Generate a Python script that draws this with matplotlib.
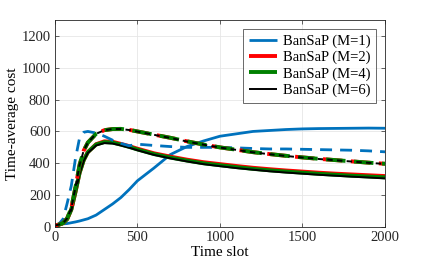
import numpy as np
import matplotlib
matplotlib.use("Agg")
import matplotlib.pyplot as plt

plt.rcParams['font.family'] = ['Liberation Serif', 'DejaVu Serif']

t = [0, 25, 50, 75, 100, 125, 150, 175, 200, 250, 300, 350, 400, 450, 500, 600, 700, 800, 900, 1000,
     1100, 1200, 1300, 1400, 1500, 1600, 1700, 1800, 1900, 2000]

m1_solid = [10, 15, 20, 22, 27, 32, 38, 45, 52, 75, 110, 145, 185, 235, 290, 370, 455, 505, 540, 570,
            585, 600, 606, 612, 616, 618, 619, 620, 621, 620]
m1_dash = [10, 20, 50, 150, 260, 430, 560, 595, 600, 590, 570, 545, 525, 510, 520, 512, 505, 500, 500, 500,
           497, 493, 490, 490, 488, 486, 484, 482, 478, 472]
solid_m2 = [10, 15, 25, 50, 110, 220, 340, 420, 470, 520, 538, 535, 522, 508, 492, 463, 442, 423, 407, 395,
            383, 372, 363, 355, 348, 341, 335, 330, 325, 320]
solid_m4 = [10, 15, 25, 50, 110, 220, 340, 420, 470, 518, 533, 530, 517, 503, 487, 458, 436, 417, 400, 388,
            376, 365, 356, 348, 341, 334, 328, 322, 317, 312]
solid_m6 = [10, 15, 25, 50, 105, 215, 335, 415, 465, 512, 527, 524, 512, 498, 482, 453, 431, 412, 395, 382,
            370, 360, 350, 342, 335, 328, 322, 316, 311, 305]
dash_m2 = [10, 15, 25, 55, 120, 250, 390, 480, 530, 585, 608, 615, 616, 610, 600, 580, 560, 538, 518, 500,
           485, 470, 458, 447, 437, 428, 420, 412, 404, 397]
dash_m4 = [10, 15, 25, 55, 120, 250, 390, 480, 530, 585, 608, 615, 616, 610, 600, 580, 560, 538, 518, 500,
           485, 470, 458, 447, 437, 428, 420, 412, 404, 397]
dash_m6 = [10, 15, 25, 55, 120, 250, 390, 480, 530, 585, 608, 615, 615, 609, 599, 579, 559, 537, 517, 499,
           484, 469, 457, 446, 436, 427, 419, 411, 403, 396]

labels = ['BanSaP (M=1)', 'BanSaP (M=2)', 'BanSaP (M=4)', 'BanSaP (M=6)']
colors = ['#0072BD', '#FF0000', '#008000', '#000000']
xticks = [0, 500, 1000, 1500, 2000]
yticks = [0, 200, 400, 600, 800, 1000, 1200]

fig = plt.figure(figsize=(4.25, 2.69), dpi=100)
ax = fig.add_axes([0.129, 0.156, 0.777, 0.77])

lw = [2.0, 2.8, 2.8, 1.4]
dash_specs = [(0, (4.3, 2.9)), (0, (5.0, 2.2)), (6.4, (5.0, 2.2)), (0, (2.8, 2.2))]
solids = [m1_solid, solid_m2, solid_m4, solid_m6]
dashes = [m1_dash, dash_m2, dash_m4, dash_m6]
handles = []
for i in range(4):
    h, = ax.plot(t, solids[i], color=colors[i], lw=lw[i], label=labels[i], solid_capstyle='butt')
    handles.append(h)
for i in range(4):
    ax.plot(t, dashes[i], color=colors[i], lw=lw[i], linestyle=dash_specs[i], dash_capstyle='butt')

ax.set_xlim(0, 2000)
ax.set_ylim(0, 1300)
ax.set_xticks(xticks)
ax.set_yticks(yticks)
ax.grid(True, color='#e6e6e6', lw=0.6)
ax.set_axisbelow(True)
ax.tick_params(direction='in', top=True, right=True, labelsize=10.5, colors='#262626', length=3, width=0.5,
               pad=3)
for s in ax.spines.values():
    s.set_color('#262626')
    s.set_linewidth(0.6)
ax.set_xlabel('Time slot', fontsize=11, labelpad=1)
ax.set_ylabel('Time-average cost', fontsize=11, labelpad=2)

leg = ax.legend(handles=handles, loc='upper right', fontsize=10.5, frameon=True, fancybox=False,
                edgecolor='#262626', borderpad=0.4, labelspacing=0.2, handlelength=1.9, handletextpad=0.4,
                borderaxespad=0.6)
leg.get_frame().set_linewidth(0.6)

fig.savefig('out.png', dpi=100)
